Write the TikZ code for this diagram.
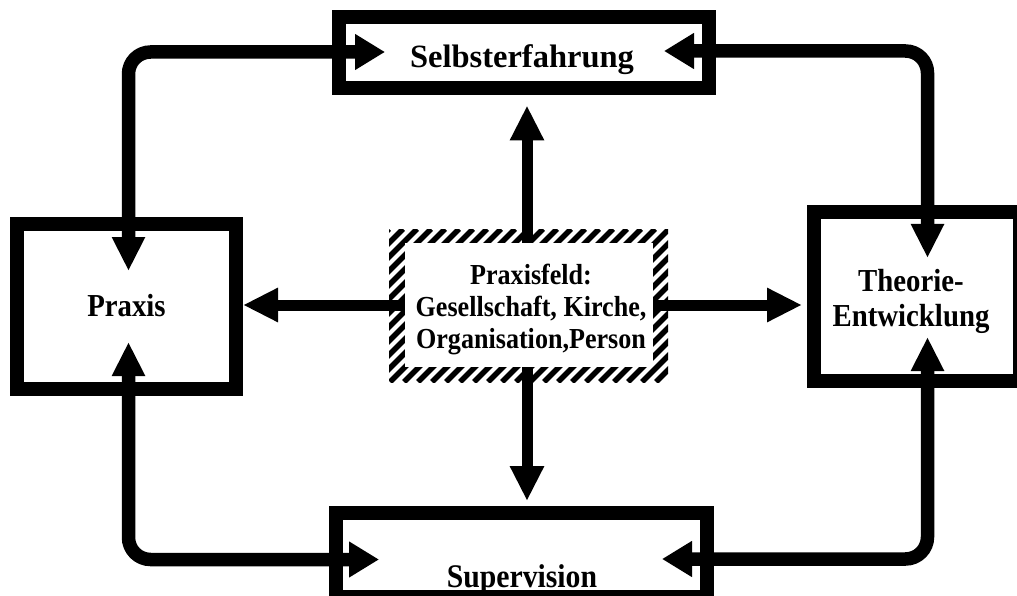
\documentclass[tikz,border=0pt]{standalone}
\usepackage{fontspec}
\setmainfont{Liberation Serif}[FakeStretch=0.9]
\newfontfamily\widefam{Liberation Serif}
\usetikzlibrary{arrows.meta,calc}
\begin{document}
\begin{tikzpicture}[x=1pt,y=-1pt,
  box/.style={draw=black, line width=14pt, rectangle, inner sep=0pt},
  lbl/.style={font=\bfseries\fontsize{32}{35}\selectfont, inner sep=0pt, align=center},
  ctext/.style={font=\bfseries\fontsize{29}{32}\selectfont, inner sep=0pt, align=center},
  loopline/.style={line width=13.5pt, rounded corners=22pt},
  vhtips/.style={{Triangle[length=34pt,width=31pt]}-{Triangle[length=30pt,width=34pt]}},
  carrow/.style={line width=11pt, -{Triangle[length=35pt,width=32pt]}},
  stripe/.style={line width=5.5pt}
  ]
\useasboundingbox (0,0) rectangle (1017,596);
% boxes
\node[box, minimum width=370pt, minimum height=71pt] (selbst) at (524,53) {};
\node[box, minimum width=219pt, minimum height=165pt] (praxis) at (126.5,306.5) {};
\node[box, minimum width=206pt, minimum height=169pt] (theo) at (917,296.5) {};
\node[box, minimum width=371pt, minimum height=84pt] (superv) at (521.5,555) {};
% striped centre frame
\begin{scope}
  \clip (389,229) rectangle (668,382);
  \foreach \i in {0,...,33} \draw[stripe] ({236+\i*14},382) -- ++(153,-153);
\end{scope}
\node[fill=white, minimum width=248pt, minimum height=124pt, inner sep=0pt] (pf) at (529,305) {};
% labels
\node[lbl, font=\widefam\bfseries\fontsize{32.5}{35}\selectfont, anchor=base] (lselbst) at (522,68) {Selbsterfahrung};
\node[lbl, anchor=base] (lpraxis) at (126.5,316) {Praxis};
\node[lbl, anchor=north] (ltheo) at (911,269) {Theorie-\\Entwicklung};
\node[lbl, font=\bfseries\fontsize{33}{35}\selectfont, anchor=base] (lsuperv) at (522,587) {Supervision};
\node[ctext, anchor=north] (lpf) at (531,264) {Praxisfeld:\\Gesellschaft, Kirche,\\Organisation,Person};
% outer loop connectors
\draw[loopline, vhtips] ($(praxis.north)+(2,54)$) |- ($(selbst.west)+(53,-1)$);
\draw[loopline, vhtips] ($(praxis.south)+(2,-54)$) |- ($(superv.west)+(50,4.5)$);
\draw[loopline, vhtips] ($(theo.north)+(10.5,53)$) |- ($(selbst.east)+(-52,-2)$);
\draw[loopline, vhtips] ($(theo.south)+(10.5,-51)$) |- ($(superv.east)+(-52,4)$);
% centre arrows
\draw[carrow] ($(pf.north)+(-2,0)$) -- ($(pf.north |- selbst.south)+(-2,10)$);
\draw[carrow] ($(pf.south)+(-2,0)$) -- ($(pf.south |- superv.north)+(-2,-5)$);
\draw[carrow] (pf.west) -- (pf.west -| praxis.east);
\draw[carrow] (pf.east) -- ($(pf.east -| theo.west)+(-5,0)$);
\end{tikzpicture}
\end{document}
